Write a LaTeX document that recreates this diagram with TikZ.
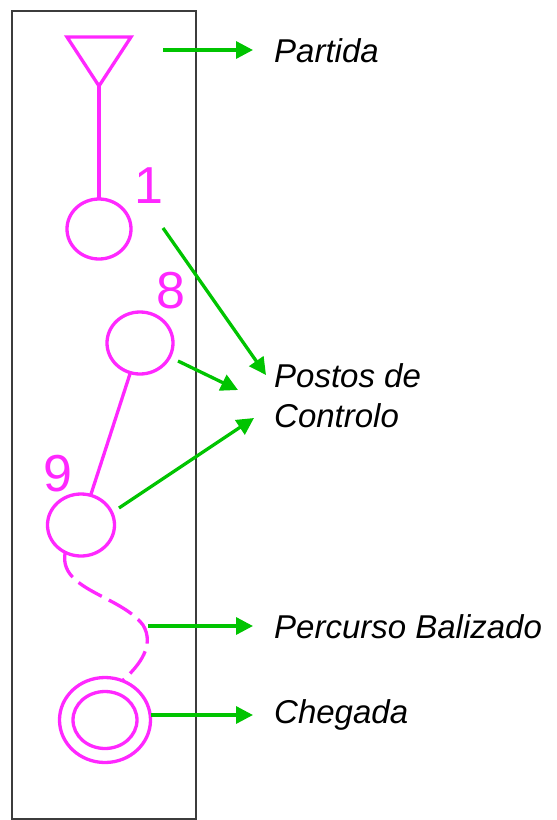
\documentclass[tikz,border=0pt]{standalone}
\usepackage{fontspec}
\setmainfont{Liberation Sans}
\usetikzlibrary{arrows.meta,shapes.geometric}
\definecolor{mag}{RGB}{255,40,255}
\definecolor{grn}{RGB}{0,196,0}
\definecolor{frame}{RGB}{60,60,60}
\tikzset{
  pink/.style={draw=mag,line width=3.3pt},
  ctrl/.style={ellipse,pink,inner sep=0pt,outer sep=0pt},
  num/.style={text=mag,font=\fontsize{52}{52}\selectfont,inner sep=0pt},
  lbl/.style={anchor=base west,inner sep=0pt,font=\fontsize{33}{40}\selectfont\itshape,align=left},
  pointer/.style={draw=grn,line width=3.3pt,-{Triangle[length=17pt,width=17pt]}},
}
\begin{document}
\begin{tikzpicture}[x=1pt,y=-1pt]
\useasboundingbox (0,0) rectangle (557,820);
\fill[white] (0,0) rectangle (557,820);
% frame
\draw[frame,line width=1.5pt] (12,11) rectangle (196,819);
% start triangle
\coordinate (tl) at (67,37);
\coordinate (tr) at (131,37);
\coordinate (apex) at (99,86);
\draw[pink,line join=miter] (tl) -- (tr) -- (apex) -- cycle;
% controls
\node[ctrl,minimum width=64pt,minimum height=60pt] (c1) at (99,229) {};
\node[ctrl,minimum width=66pt,minimum height=62pt] (c8) at (140,343) {};
\node[ctrl,minimum width=67pt,minimum height=62pt] (c9) at (81,525) {};
% finish
\node[ctrl,minimum width=91pt,minimum height=85pt] (fo) at (105,720) {};
\node[ctrl,minimum width=64pt,minimum height=57pt] (fi) at (105,720) {};
% numbers
\node[num] (n1) at (149,186) {1};
\node[num] (n8) at (171,291) {8};
\node[num] (n9) at (58,474) {9};
% course
\draw[pink] (apex) -- (c1.north);
\draw[pink] (c8) -- (c9);
\draw[pink,dash pattern=on 27pt off 8pt] (c9.-120) .. controls (58,590) and (120,595) .. (143,625) .. controls (155,645) and (140,665) .. (fo.66);
% labels
\node[lbl] (lp) at (274,62) {Partida};
\node[lbl] (lc) at (274,427) {Postos de\\Controlo};
\node[lbl] (lb) at (274,638) {Percurso Balizado};
\node[lbl] (lg) at (274,723) {Chegada};
% pointers
\coordinate (s1) at (163,50);   \coordinate (e1) at (253,50);
\coordinate (s2) at (163,228);  \coordinate (e2) at (266,375);
\coordinate (s3) at (178,361);  \coordinate (e3) at (238,390);
\coordinate (s4) at (119,508);  \coordinate (e4) at (254,418);
\coordinate (s5) at (148,626);  \coordinate (e5) at (253,626);
\coordinate (s6) at (151,715);  \coordinate (e6) at (253,715);
\draw[pointer] (s1) -- (e1);
\draw[pointer] (s2) -- (e2);
\draw[pointer] (s3) -- (e3);
\draw[pointer] (s4) -- (e4);
\draw[pointer] (s5) -- (e5);
\draw[pointer] (s6) -- (e6);
\end{tikzpicture}
\end{document}
